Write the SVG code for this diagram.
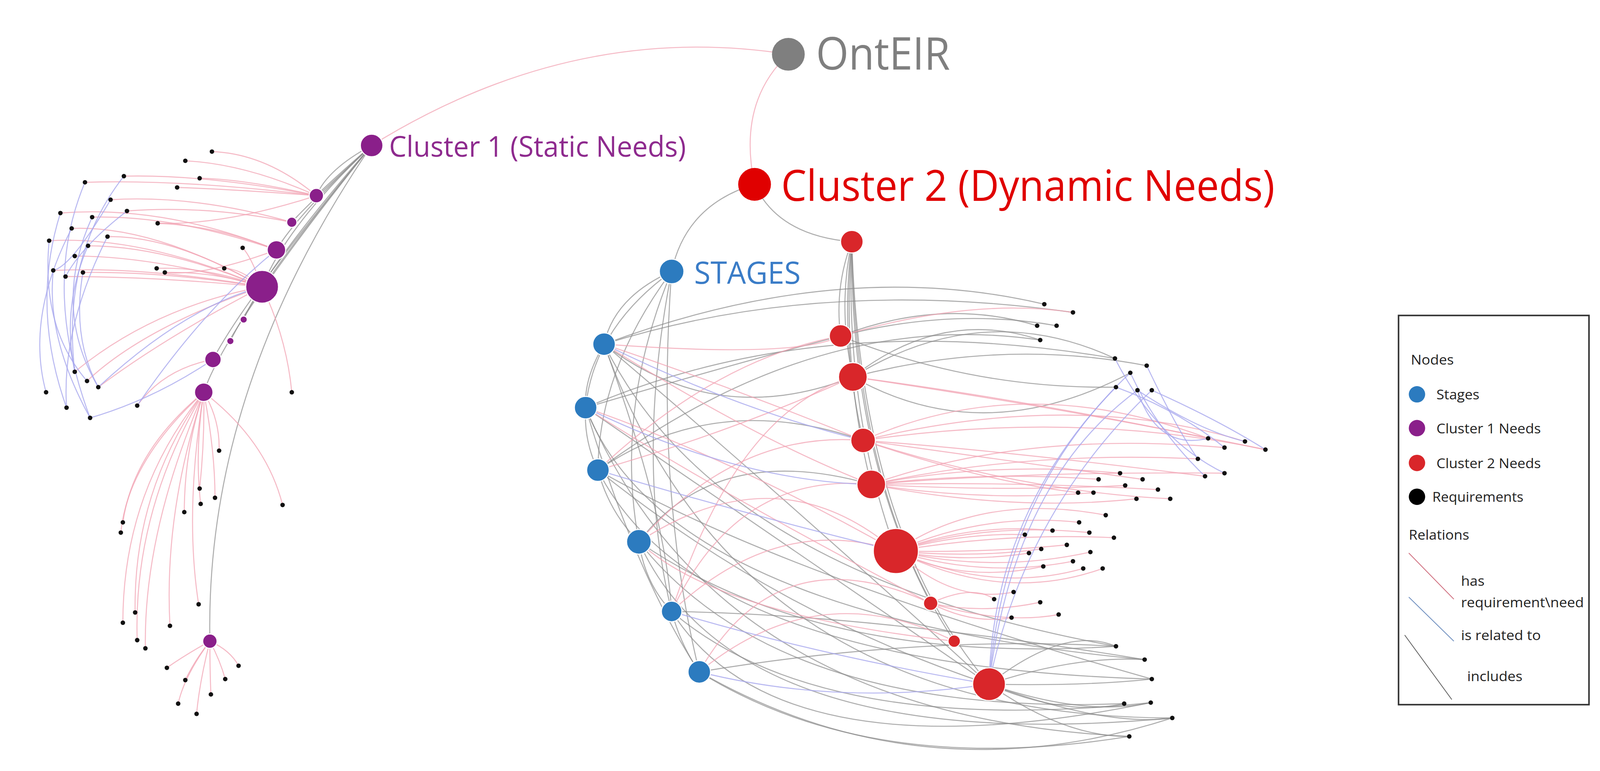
<svg xmlns="http://www.w3.org/2000/svg" width="4110" height="1973" viewBox="0 0 4110 1973">
<style>
.p{fill:none;stroke:#f2a3b3;stroke-width:1;opacity:.75}
.b{fill:none;stroke:#a8a8ee;stroke-width:1;opacity:.8}
.g{fill:none;stroke:#8a8a8a;stroke-width:1;opacity:.7}
.d{fill:#111}
.pu{fill:#8a1f8a;stroke:#fff;stroke-width:1}
.rd{fill:#d9262a;stroke:#fff;stroke-width:1}
.bl{fill:#2c7bbf;stroke:#fff;stroke-width:1}
.lt{font-family:"Open Sans","Liberation Sans",sans-serif;font-size:13px;fill:#222}
</style>
<rect width="4110" height="1973" fill="#fff"/>
<g transform="scale(2.621)">
<g id="connectors">
<path class="p" d="M770 53 Q560 20 363 142"/>
<path class="p" d="M770 53 Q720 100 737 180"/>
<path class="g" d="M737 180 Q670 200 656 265"/>
<path class="g" d="M737 180 Q760 230 832 236"/>
<path class="g" d="M363 142 Q320 165 309 191"/><path class="g" d="M363 142 Q325 175 309 191"/>
<path class="g" d="M363 142 Q300 200 285 217"/><path class="g" d="M363 142 Q290 210 270 244"/>
<path class="g" d="M363 142 Q280 220 256 280"/><path class="g" d="M363 142 Q260 260 238 312"/>
<path class="g" d="M363 142 Q250 280 225 333"/><path class="g" d="M363 142 Q240 290 208 351"/>
<path class="g" d="M363 142 Q220 320 199 383"/><path class="g" d="M363 142 Q200 380 205 626"/>
<path class="g" d="M832 236 Q815 280 821 328"/><path class="g" d="M832 236 Q818 300 833 368"/>
<path class="g" d="M832 236 Q820 330 843 430"/><path class="g" d="M832 236 Q822 360 851 473"/>
<path class="g" d="M832 236 Q825 400 875 538"/><path class="g" d="M832 236 Q830 440 909 589"/>
<path class="g" d="M832 236 Q835 480 932 626"/><path class="g" d="M832 236 Q840 520 966 668"/>
<path class="g" d="M656 265 Q600 290 590 336"/><path class="g" d="M656 265 Q580 320 572 398"/>
<path class="g" d="M656 265 Q585 360 584 459"/><path class="g" d="M656 265 Q600 400 624 529"/>
<path class="g" d="M656 265 Q620 450 656 597"/><path class="g" d="M656 265 Q640 480 683 656"/>
<path class="g" d="M590 336 Q570 370 572 398"/><path class="g" d="M572 398 Q570 430 584 459"/><path class="g" d="M584 459 Q595 500 624 529"/><path class="g" d="M624 529 Q630 570 656 597"/><path class="g" d="M656 597 Q665 630 683 656"/>
<path class="g" d="M590 336 Q820 250 1020 297"/><path class="g" d="M590 336 Q800 270 1048 305"/><path class="g" d="M821 328 Q920 290 1013 318"/><path class="g" d="M821 328 Q930 300 1032 318"/><path class="g" d="M833 368 Q920 300 1016 332"/><path class="g" d="M833 368 Q960 290 1089 350"/><path class="g" d="M833 368 Q980 330 1120 357"/><path class="g" d="M833 368 Q960 440 1104 364"/><path class="g" d="M572 398 Q800 300 1089 350"/><path class="g" d="M584 459 Q800 300 1016 332"/><path class="g" d="M821 328 Q950 380 1090 378"/>
<path class="g" d="M590 336 Q700 560 1090 631"/><path class="g" d="M572 398 Q650 600 1118 644"/><path class="g" d="M584 459 Q680 650 1125 663"/><path class="g" d="M624 529 Q760 700 1098 687"/><path class="g" d="M656 597 Q800 720 1124 686"/><path class="g" d="M683 656 Q900 780 1145 701"/><path class="g" d="M683 656 Q850 760 1103 719"/><path class="g" d="M624 529 Q800 650 1090 631"/><path class="g" d="M656 597 Q850 600 1118 644"/><path class="g" d="M572 398 Q700 700 1103 719"/><path class="g" d="M590 336 Q720 700 1145 701"/><path class="g" d="M584 459 Q760 560 1125 663"/><path class="g" d="M683 656 Q900 620 1090 631"/><path class="g" d="M656 597 Q760 760 1124 686"/><path class="g" d="M624 529 Q720 740 1145 701"/><path class="g" d="M590 336 Q760 480 966 668"/><path class="g" d="M572 398 Q780 540 966 668"/><path class="g" d="M584 459 Q760 600 966 668"/><path class="g" d="M966 668 Q1040 610 1090 631"/><path class="g" d="M966 668 Q1050 640 1118 644"/><path class="g" d="M966 668 Q1060 670 1125 663"/><path class="g" d="M966 668 Q1040 700 1098 687"/><path class="g" d="M966 668 Q1060 700 1124 686"/><path class="g" d="M966 668 Q1080 710 1145 701"/><path class="g" d="M966 668 Q1040 720 1103 719"/>
<path class="g" d="M590 336 Q700 420 833 368"/><path class="g" d="M572 398 Q700 360 821 328"/><path class="g" d="M584 459 Q700 380 843 430"/><path class="g" d="M624 529 Q700 430 851 473"/><path class="g" d="M590 336 Q650 500 656 597"/><path class="g" d="M572 398 Q620 560 683 656"/>
<path class="p" d="M590 336 Q720 380 843 430"/><path class="p" d="M590 336 Q740 430 851 473"/><path class="p" d="M572 398 Q720 450 875 538"/><path class="p" d="M584 459 Q700 350 821 328"/><path class="p" d="M584 459 Q720 420 833 368"/><path class="p" d="M624 529 Q720 420 843 430"/><path class="p" d="M624 529 Q760 440 875 538"/><path class="p" d="M656 597 Q720 460 851 473"/><path class="p" d="M656 597 Q760 500 875 538"/><path class="p" d="M683 656 Q760 520 909 589"/><path class="p" d="M683 656 Q800 560 932 626"/><path class="p" d="M572 398 Q700 480 909 589"/><path class="p" d="M590 336 Q780 350 821 328"/><path class="p" d="M656 597 Q720 400 833 368"/><path class="p" d="M624 529 Q700 600 932 626"/>
<path class="p" d="M821 328 Q950 290 1048 305"/><path class="p" d="M843 430 Q1000 360 1180 428"/><path class="p" d="M843 430 Q1050 380 1216 431"/><path class="p" d="M843 430 Q1050 400 1236 439"/><path class="p" d="M851 473 Q1000 420 1196 437"/><path class="p" d="M851 473 Q1000 440 1170 448"/><path class="p" d="M851 473 Q1000 460 1196 462"/><path class="p" d="M843 430 Q980 440 1177 465"/><path class="p" d="M851 473 Q970 450 1094 462"/><path class="p" d="M851 473 Q960 460 1073 468"/><path class="p" d="M843 430 Q990 450 1116 468"/><path class="p" d="M851 473 Q980 480 1099 474"/><path class="p" d="M851 473 Q990 470 1131 478"/><path class="p" d="M843 430 Q960 470 1053 481"/><path class="p" d="M851 473 Q960 490 1068 481"/><path class="p" d="M851 473 Q990 500 1110 487"/><path class="p" d="M843 430 Q1000 480 1143 487"/><path class="p" d="M833 368 Q1000 390 1180 428"/><path class="p" d="M833 368 Q1050 400 1236 439"/>
<path class="p" d="M875 538 Q960 480 1080 503"/><path class="p" d="M875 538 Q960 500 1054 510"/><path class="p" d="M875 538 Q950 510 1028 518"/><path class="p" d="M875 538 Q960 510 1064 520"/><path class="p" d="M875 538 Q940 520 1001 522"/><path class="p" d="M875 538 Q980 520 1088 525"/><path class="p" d="M875 538 Q960 540 1042 532"/><path class="p" d="M875 538 Q950 545 1017 536"/><path class="p" d="M875 538 Q970 560 1065 539"/><path class="p" d="M875 538 Q940 550 1005 540"/><path class="p" d="M875 538 Q960 565 1048 548"/><path class="p" d="M875 538 Q940 570 1019 553"/><path class="p" d="M875 538 Q970 580 1058 555"/><path class="p" d="M875 538 Q980 590 1077 555"/><path class="p" d="M875 538 Q930 590 990 578"/><path class="p" d="M909 589 Q950 570 971 585"/><path class="p" d="M909 589 Q960 600 1016 588"/><path class="p" d="M909 589 Q950 610 988 603"/><path class="p" d="M909 589 Q980 610 1034 600"/>
<path class="b" d="M966 668 Q970 500 1090 378"/><path class="b" d="M966 668 Q980 480 1104 364"/><path class="b" d="M966 668 Q990 470 1111 381"/><path class="b" d="M966 668 Q1000 500 1125 381"/><path class="b" d="M1104 364 Q1130 420 1177 465"/><path class="b" d="M1090 378 Q1150 400 1196 437"/><path class="b" d="M1111 381 Q1170 420 1216 431"/><path class="b" d="M1125 381 Q1190 410 1236 439"/><path class="b" d="M1120 357 Q1150 420 1170 448"/><path class="b" d="M1089 350 Q1130 430 1196 462"/><path class="b" d="M1111 381 Q1130 440 1180 428"/><path class="b" d="M590 336 Q720 400 843 430"/><path class="b" d="M572 398 Q720 470 851 473"/><path class="b" d="M584 459 Q720 500 875 538"/><path class="b" d="M656 597 Q800 640 966 668"/><path class="b" d="M683 656 Q820 690 966 668"/>
<path class="p" d="M309 191 Q260 150 207 148"/><path class="p" d="M309 191 Q240 160 181 157"/><path class="p" d="M309 191 Q240 175 195 174"/><path class="p" d="M309 191 Q230 185 173 183"/><path class="p" d="M309 191 Q200 170 121 172"/><path class="p" d="M309 191 Q180 175 83 178"/><path class="p" d="M285 217 Q200 200 124 206"/><path class="p" d="M285 217 Q190 190 108 195"/><path class="p" d="M270 244 Q160 200 59 208"/><path class="p" d="M270 244 Q170 210 90 212"/><path class="p" d="M270 244 Q210 220 154 218"/><path class="p" d="M256 280 Q150 220 70 223"/><path class="p" d="M256 280 Q140 230 48 235"/><path class="p" d="M256 280 Q170 230 105 231"/><path class="p" d="M256 280 Q160 240 86 240"/><path class="p" d="M256 280 Q150 250 73 250"/><path class="p" d="M256 280 Q140 260 52 264"/><path class="p" d="M256 280 Q150 270 64 270"/><path class="p" d="M256 280 Q160 265 81 266"/><path class="p" d="M256 280 Q200 260 153 262"/><path class="p" d="M256 280 Q210 265 161 266"/><path class="p" d="M256 280 Q235 262 219 262"/><path class="p" d="M256 280 Q245 250 237 242"/><path class="p" d="M256 280 Q150 300 73 363"/><path class="p" d="M256 280 Q140 320 85 372"/><path class="p" d="M256 280 Q160 330 96 378"/><path class="p" d="M208 351 Q160 360 134 396"/><path class="p" d="M256 280 Q280 330 285 383"/><path class="p" d="M270 244 Q200 270 161 266"/><path class="p" d="M309 191 Q220 220 154 218"/>
<path class="p" d="M199 383 Q215 410 214 440"/><path class="p" d="M199 383 Q200 430 195 477"/><path class="p" d="M199 383 Q210 440 210 486"/><path class="p" d="M199 383 Q190 440 196 492"/><path class="p" d="M199 383 Q180 440 180 500"/><path class="p" d="M199 383 Q260 430 276 493"/><path class="p" d="M199 383 Q130 440 120 510"/><path class="p" d="M199 383 Q125 450 118 520"/><path class="p" d="M199 383 Q180 500 194 590"/><path class="p" d="M199 383 Q130 480 132 598"/><path class="p" d="M199 383 Q120 480 120 608"/><path class="p" d="M199 383 Q160 500 166 611"/><path class="p" d="M199 383 Q130 500 134 625"/><path class="p" d="M199 383 Q140 520 142 633"/>
<path class="p" d="M205 626 Q180 640 163 652"/><path class="p" d="M205 626 Q225 635 233 650"/><path class="p" d="M205 626 Q190 645 181 664"/><path class="p" d="M205 626 Q215 645 220 663"/><path class="p" d="M205 626 Q205 655 206 678"/><path class="p" d="M205 626 Q180 660 174 687"/><path class="p" d="M205 626 Q195 665 192 697"/>
<path class="b" d="M59 208 Q30 300 65 398"/><path class="b" d="M70 223 Q25 310 45 383"/><path class="b" d="M83 178 Q40 280 88 408"/><path class="b" d="M121 172 Q60 250 73 363"/><path class="b" d="M48 235 Q40 320 85 372"/><path class="b" d="M90 212 Q50 300 96 378"/><path class="b" d="M105 231 Q60 320 65 398"/><path class="b" d="M52 264 Q45 330 88 408"/><path class="b" d="M108 195 Q70 260 52 264"/><path class="b" d="M124 206 Q80 240 64 270"/><path class="b" d="M86 240 Q60 300 73 363"/><path class="b" d="M81 266 Q70 330 96 378"/><path class="b" d="M256 280 Q180 300 96 378"/><path class="b" d="M208 351 Q150 390 88 408"/><path class="b" d="M270 244 Q200 300 134 396"/>
</g>
<g id="nodes">
<g id="n-onteir"><circle cx="770" cy="53" r="16" fill="#7f7f7f"/><text x="797" y="68" font-family="Open Sans,Liberation Sans,sans-serif" font-size="44" fill="#7f7f7f" textLength="131" lengthAdjust="spacingAndGlyphs">OntEIR</text></g>
<g id="n-cluster1"><circle cx="363" cy="142" r="11" class="pu"/><text x="380" y="153" font-family="Open Sans,Liberation Sans,sans-serif" font-size="28" fill="#8e2a8e" textLength="290" lengthAdjust="spacingAndGlyphs">Cluster 1 (Static Needs)</text></g>
<g id="n-cluster2"><circle cx="737" cy="180" r="16" fill="#e00000"/><text x="763" y="196" font-family="Open Sans,Liberation Sans,sans-serif" font-size="42" fill="#e00000" textLength="482" lengthAdjust="spacingAndGlyphs">Cluster 2 (Dynamic Needs)</text></g>
<g id="n-stages"><circle cx="656" cy="265" r="12" class="bl"/><text x="678" y="277" font-family="Open Sans,Liberation Sans,sans-serif" font-size="30" fill="#3a7cc7" textLength="104" lengthAdjust="spacingAndGlyphs">STAGES</text></g>
<g id="purple">
<circle cx="309" cy="191" r="7" class="pu"/><circle cx="285" cy="217" r="5" class="pu"/><circle cx="270" cy="244" r="9" class="pu"/><circle cx="256" cy="280" r="16" class="pu"/><circle cx="238" cy="312" r="3.5" class="pu"/><circle cx="225" cy="333" r="3.5" class="pu"/><circle cx="208" cy="351" r="8" class="pu"/><circle cx="199" cy="383" r="9" class="pu"/><circle cx="205" cy="626" r="7" class="pu"/>
</g>
<g id="red">
<circle cx="832" cy="236" r="11" class="rd"/><circle cx="821" cy="328" r="11" class="rd"/><circle cx="833" cy="368" r="14" class="rd"/><circle cx="843" cy="430" r="12" class="rd"/><circle cx="851" cy="473" r="14" class="rd"/><circle cx="875" cy="538" r="22" class="rd"/><circle cx="909" cy="589" r="7" class="rd"/><circle cx="932" cy="626" r="6" class="rd"/><circle cx="966" cy="668" r="16" class="rd"/>
</g>
<g id="blue">
<circle cx="590" cy="336" r="11" class="bl"/><circle cx="572" cy="398" r="11" class="bl"/><circle cx="584" cy="459" r="11" class="bl"/><circle cx="624" cy="529" r="12" class="bl"/><circle cx="656" cy="597" r="10" class="bl"/><circle cx="683" cy="656" r="11" class="bl"/>
</g>
<g id="requirements" class="d">
<circle cx="207" cy="148" r="2.2"/><circle cx="181" cy="157" r="2.2"/><circle cx="195" cy="174" r="2.2"/><circle cx="173" cy="183" r="2.2"/><circle cx="121" cy="172" r="2.2"/><circle cx="83" cy="178" r="2.2"/><circle cx="124" cy="206" r="2.2"/><circle cx="108" cy="195" r="2.2"/><circle cx="59" cy="208" r="2.2"/><circle cx="90" cy="212" r="2.2"/><circle cx="154" cy="218" r="2.2"/><circle cx="70" cy="223" r="2.2"/><circle cx="48" cy="235" r="2.2"/><circle cx="105" cy="231" r="2.2"/><circle cx="86" cy="240" r="2.2"/><circle cx="73" cy="250" r="2.2"/><circle cx="52" cy="264" r="2.2"/><circle cx="64" cy="270" r="2.2"/><circle cx="81" cy="266" r="2.2"/><circle cx="153" cy="262" r="2.2"/><circle cx="161" cy="266" r="2.2"/><circle cx="219" cy="262" r="2.2"/><circle cx="237" cy="242" r="2.2"/><circle cx="45" cy="383" r="2.2"/><circle cx="73" cy="363" r="2.2"/><circle cx="85" cy="372" r="2.2"/><circle cx="96" cy="378" r="2.2"/><circle cx="65" cy="398" r="2.2"/><circle cx="88" cy="408" r="2.2"/><circle cx="134" cy="396" r="2.2"/><circle cx="285" cy="383" r="2.2"/><circle cx="214" cy="440" r="2.2"/><circle cx="195" cy="477" r="2.2"/><circle cx="210" cy="486" r="2.2"/><circle cx="196" cy="492" r="2.2"/><circle cx="180" cy="500" r="2.2"/><circle cx="276" cy="493" r="2.2"/><circle cx="120" cy="510" r="2.2"/><circle cx="118" cy="520" r="2.2"/><circle cx="194" cy="590" r="2.2"/><circle cx="132" cy="598" r="2.2"/><circle cx="120" cy="608" r="2.2"/><circle cx="166" cy="611" r="2.2"/><circle cx="134" cy="625" r="2.2"/><circle cx="142" cy="633" r="2.2"/><circle cx="163" cy="652" r="2.2"/><circle cx="233" cy="650" r="2.2"/><circle cx="181" cy="664" r="2.2"/><circle cx="220" cy="663" r="2.2"/><circle cx="206" cy="678" r="2.2"/><circle cx="174" cy="687" r="2.2"/><circle cx="192" cy="697" r="2.2"/>
<circle cx="1020" cy="297" r="2.2"/><circle cx="1048" cy="305" r="2.2"/><circle cx="1013" cy="318" r="2.2"/><circle cx="1032" cy="318" r="2.2"/><circle cx="1016" cy="332" r="2.2"/><circle cx="1089" cy="350" r="2.2"/><circle cx="1120" cy="357" r="2.2"/><circle cx="1104" cy="364" r="2.2"/><circle cx="1111" cy="381" r="2.2"/><circle cx="1125" cy="381" r="2.2"/><circle cx="1090" cy="378" r="2.2"/><circle cx="1180" cy="428" r="2.2"/><circle cx="1196" cy="437" r="2.2"/><circle cx="1216" cy="431" r="2.2"/><circle cx="1236" cy="439" r="2.2"/><circle cx="1170" cy="448" r="2.2"/><circle cx="1196" cy="462" r="2.2"/><circle cx="1177" cy="465" r="2.2"/><circle cx="1094" cy="462" r="2.2"/><circle cx="1073" cy="468" r="2.2"/><circle cx="1116" cy="468" r="2.2"/><circle cx="1099" cy="474" r="2.2"/><circle cx="1131" cy="478" r="2.2"/><circle cx="1053" cy="481" r="2.2"/><circle cx="1068" cy="481" r="2.2"/><circle cx="1110" cy="487" r="2.2"/><circle cx="1143" cy="487" r="2.2"/><circle cx="1080" cy="503" r="2.2"/><circle cx="1054" cy="510" r="2.2"/><circle cx="1028" cy="518" r="2.2"/><circle cx="1064" cy="520" r="2.2"/><circle cx="1001" cy="522" r="2.2"/><circle cx="1088" cy="525" r="2.2"/><circle cx="1042" cy="532" r="2.2"/><circle cx="1017" cy="536" r="2.2"/><circle cx="1065" cy="539" r="2.2"/><circle cx="1005" cy="540" r="2.2"/><circle cx="1048" cy="548" r="2.2"/><circle cx="1019" cy="553" r="2.2"/><circle cx="1058" cy="555" r="2.2"/><circle cx="1077" cy="555" r="2.2"/><circle cx="990" cy="578" r="2.2"/><circle cx="971" cy="585" r="2.2"/><circle cx="1016" cy="588" r="2.2"/><circle cx="988" cy="603" r="2.2"/><circle cx="1034" cy="600" r="2.2"/><circle cx="1090" cy="631" r="2.2"/><circle cx="1118" cy="644" r="2.2"/><circle cx="1125" cy="663" r="2.2"/><circle cx="1098" cy="687" r="2.2"/><circle cx="1124" cy="686" r="2.2"/><circle cx="1145" cy="701" r="2.2"/><circle cx="1103" cy="719" r="2.2"/>
</g>
</g>
<g id="legend">
<rect x="1366" y="308" width="186" height="380" fill="#fff" stroke="#333" stroke-width="1.5"/>
<text class="lt" x="1378" y="356" textLength="42" lengthAdjust="spacingAndGlyphs">Nodes</text>
<circle cx="1384" cy="385" r="8" fill="#2c7bbf"/><text class="lt" x="1403" y="390" textLength="42" lengthAdjust="spacingAndGlyphs">Stages</text>
<circle cx="1384" cy="418" r="8" fill="#8a1f8a"/><text class="lt" x="1403" y="423" textLength="102" lengthAdjust="spacingAndGlyphs">Cluster 1 Needs</text>
<circle cx="1384" cy="452" r="8" fill="#d9262a"/><text class="lt" x="1403" y="457" textLength="102" lengthAdjust="spacingAndGlyphs">Cluster 2 Needs</text>
<circle cx="1384" cy="485" r="8" fill="#000"/><text class="lt" x="1399" y="490" textLength="89" lengthAdjust="spacingAndGlyphs">Requirements</text>
<text class="lt" x="1376" y="527" textLength="59" lengthAdjust="spacingAndGlyphs">Relations</text>
<line x1="1376" y1="540" x2="1420" y2="585" stroke="#d07080" stroke-width="0.8"/>
<text class="lt" x="1427" y="572" textLength="23" lengthAdjust="spacingAndGlyphs">has</text>
<text class="lt" x="1427" y="593" textLength="120" lengthAdjust="spacingAndGlyphs">requirement\need</text>
<line x1="1376" y1="583" x2="1420" y2="626" stroke="#7090c0" stroke-width="0.8"/>
<text class="lt" x="1427" y="625" textLength="78" lengthAdjust="spacingAndGlyphs">is related to</text>
<line x1="1372" y1="620" x2="1418" y2="683" stroke="#666" stroke-width="0.8"/>
<text class="lt" x="1433" y="665" textLength="54" lengthAdjust="spacingAndGlyphs">includes</text>
</g>
</g>
</svg>
